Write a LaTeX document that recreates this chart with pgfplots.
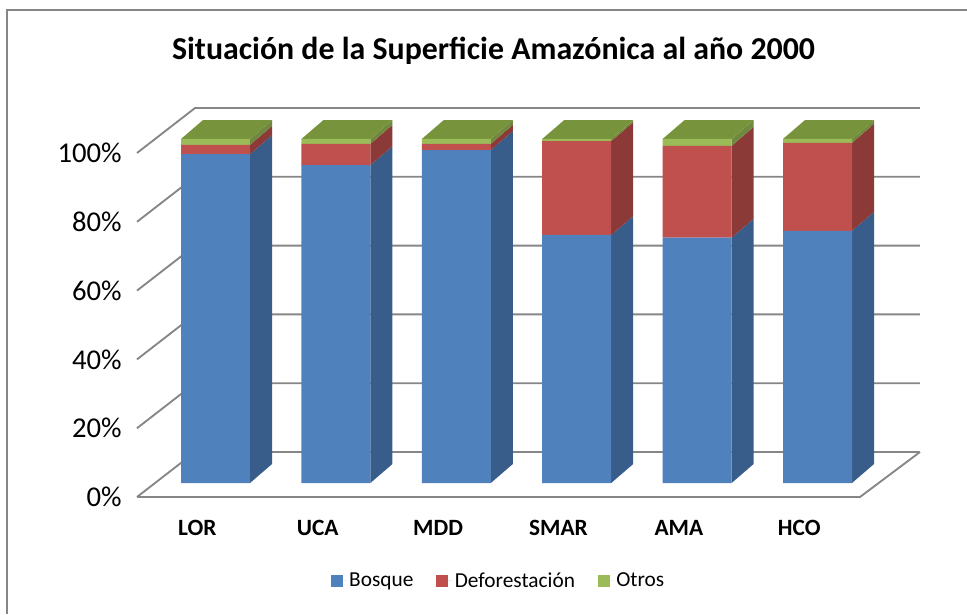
\documentclass[border=0pt]{standalone}
\usepackage{pgfplots}
\pgfplotsset{compat=1.18}
\usepackage{pgfplotstable}
\usepackage{fontspec}
\setmainfont{Carlito}

\definecolor{cBosque}{HTML}{4F81BD}
\definecolor{cBosqueS}{HTML}{385D8A}
\definecolor{cDef}{HTML}{C0504D}
\definecolor{cDefS}{HTML}{8C3A38}
\definecolor{cOtros}{HTML}{9BBB59}
\definecolor{cOtrosS}{HTML}{71893F}
\definecolor{cTop}{HTML}{77933C}
\definecolor{cGrid}{HTML}{868686}

\pgfplotstableread{
x bosque def otros
0 95.6 2.7 1.7
1 92.4 6.2 1.4
2 96.8 1.8 1.4
3 72.1 27.3 0.6
4 71.3 26.7 2.0
5 73.3 25.6 1.1
}\datatable

\def\hw{0.2865}
\def\ddx{0.183}
\def\ddy{5.52}

\pgfplotsset{
  common/.style={x=90.3pt, y=2.58pt, xmin=-0.652, xmax=5.851, ymin=-4.07, ymax=110,
    clip=false, at={(102.75pt,87.75pt)}, anchor=south west}
}

\begin{document}
\begin{tikzpicture}[x=0.75pt,y=0.75pt]
\useasboundingbox (0,0) rectangle (967,614);
\draw[cGrid, line width=1.5pt] (7,0) -- (7,604) -- (967,604);
\node[font=\bfseries\fontsize{23.9}{28}\selectfont] at (493.5,563) {Situación de la Superficie Amazónica al año 2000};

\begin{axis}[common,
  axis line style={draw=none}, major tick length=0pt,
  xtick={-0.151,0.849,1.849,2.849,3.849,4.849},
  xticklabels={LOR,UCA,MDD,SMAR,AMA,HCO},
  xticklabel style={font=\bfseries\fontsize{17.5}{20}\selectfont, anchor=center, yshift=-23.25pt},
  ytick={-4.07,15.93,35.93,55.93,75.93,95.93},
  yticklabels={0\%,20\%,40\%,60\%,80\%,100\%},
  yticklabel style={font=\fontsize{21.5}{24}\selectfont, anchor=east, xshift=-8pt},
]
\pgfplotsinvokeforeach{0,20,40,60,80,100}{
  \addplot[cGrid, line width=1.4pt, line join=round] table[row sep=\\, y expr=\thisrow{y}+#1]{x y\\ -0.652 -4.07\\ -0.170 9.01\\ 5.851 9.01\\};
}
\addplot[cGrid, line width=1.4pt, line join=round] coordinates {(-0.652,-4.07) (5.353,-4.07) (5.851,9.01)};

\pgfplotsforeachungrouped \i in {0,1,2,3,4,5}{%
  \pgfplotstablegetelem{\i}{bosque}\of\datatable \let\vb\pgfplotsretval
  \pgfplotstablegetelem{\i}{def}\of\datatable \let\vd\pgfplotsretval
  \pgfplotstablegetelem{\i}{otros}\of\datatable \let\vo\pgfplotsretval
  \pgfmathsetmacro\ya{\vb}%
  \pgfmathsetmacro\yb{\vb+\vd}%
  \pgfmathsetmacro\yc{\vb+\vd+\vo}%
  \pgfmathsetmacro\yo{\ddy}%
  \pgfmathsetmacro\yA{\ya+\ddy}%
  \pgfmathsetmacro\yB{\yb+\ddy}%
  \pgfmathsetmacro\yC{\yc+\ddy}%
  \pgfmathsetmacro\xr{\i+\hw}%
  \pgfmathsetmacro\xR{\i+\hw+\ddx}%
  \pgfmathsetmacro\xl{\i-\hw}%
  \pgfmathsetmacro\xL{\i-\hw+\ddx}%
  \edef\temp{%
    \noexpand\addplot[fill=cBosqueS,draw=none] coordinates {(\xr,0) (\xR,\yo) (\xR,\yA) (\xr,\ya)};
    \noexpand\addplot[fill=cDefS,draw=none] coordinates {(\xr,\ya) (\xR,\yA) (\xR,\yB) (\xr,\yb)};
    \noexpand\addplot[fill=cOtrosS,draw=none] coordinates {(\xr,\yb) (\xR,\yB) (\xR,\yC) (\xr,\yc)};
    \noexpand\addplot[fill=cTop,draw=none] coordinates {(\xl,\yc) (\xr,\yc) (\xR,\yC) (\xL,\yC)};
  }\temp
}
\end{axis}

\begin{axis}[common, hide axis, ybar stacked, bar width=0.573,
  legend columns=3,
  legend style={at={(0.462,-0.214)}, anchor=center, draw=none, fill=none,
    font=\fontsize{16}{19}\selectfont,
    /tikz/every even column/.append style={column sep=15pt}},
  legend image code/.code={\fill[#1] (0pt,-4.5pt) rectangle (9pt,4.5pt); \path (0pt,0pt) -- (12pt,0pt);},
]
\addplot[fill=cBosque, draw=none] table[x=x,y=bosque]{\datatable};
\addplot[fill=cDef, draw=none] table[x=x,y=def]{\datatable};
\addplot[fill=cOtros, draw=none] table[x=x,y=otros]{\datatable};
\legend{Bosque,Deforestación,Otros}
\end{axis}
\end{tikzpicture}
\end{document}
